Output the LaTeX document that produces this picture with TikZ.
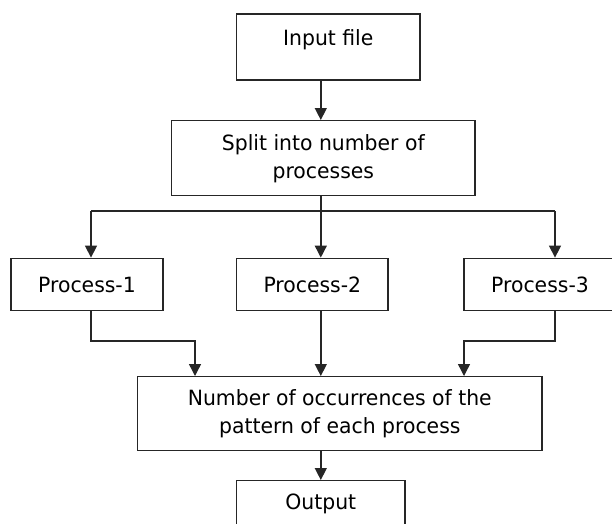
\documentclass[tikz,border=0pt]{standalone}
\usepackage{fontspec}
\setmainfont[FakeStretch=0.97]{DejaVu Sans}
\usetikzlibrary{arrows.meta}
\begin{document}
\begin{tikzpicture}[x=1pt,y=-1pt,
		box/.style={draw=black!85,line width=1.4pt,inner sep=0pt,align=center,font=\fontsize{21}{28}\selectfont},
		link/.style={draw=black!85,line width=1.4pt},
		flow/.style={link,-{Triangle[length=12pt,width=12pt]}}]
	\useasboundingbox (0,0) rectangle (612,523);
	\clip (0,0) rectangle (612,523);
	\node[box,anchor=north,minimum width=183.3pt,text height=31.7pt,text depth=34.3pt] (input) at (328.3,13.3) {Input file};
	\node[box,minimum width=303.3pt,minimum height=75pt] (split) at (323.3,158.2) {Split into number of\\processes};
	\node[box,minimum width=152pt,minimum height=52.4pt] (p1) at (87,284.5) {Process-1};
	\node[box,minimum width=151.5pt,minimum height=52.4pt] (p2) at (312.3,284.5) {Process-2};
	\node[box,minimum width=152pt,minimum height=52.4pt] (p3) at (540,284.5) {Process-3};
	\node[box,minimum width=404.3pt,minimum height=74pt] (count) at (339.8,413.7) {Number of occurrences of the\\pattern of each process};
	\node[box,anchor=north,minimum width=168.3pt,text height=29pt,text depth=20pt] (output) at (320.8,480) {Output};
	\coordinate (axis) at (320.8,0);
	\coordinate (fork) at (320.8,211);
	\coordinate (fork1) at (91,211);
	\coordinate (fork3) at (555,211);
	\coordinate (in1) at (195,341);
	\coordinate (in3) at (464,341);
	\draw[flow] (input.south -| axis) -- (split.north -| axis);
	\draw[link] (split.south -| axis) -- (fork);
	\draw[link] (fork1) -- (fork3);
	\draw[flow] (fork1) -- (fork1 |- p1.north);
	\draw[flow] (fork) -- (fork |- p2.north);
	\draw[flow] (fork3) -- (fork3 |- p3.north);
	\draw[flow] (fork1 |- p1.south) |- (in1) -- (in1 |- count.north);
	\draw[flow] (fork |- p2.south) -- (fork |- count.north);
	\draw[flow] (fork3 |- p3.south) |- (in3) -- (in3 |- count.north);
	\draw[flow] (count.south -| axis) -- (output.north -| axis);
\end{tikzpicture}
\end{document}
